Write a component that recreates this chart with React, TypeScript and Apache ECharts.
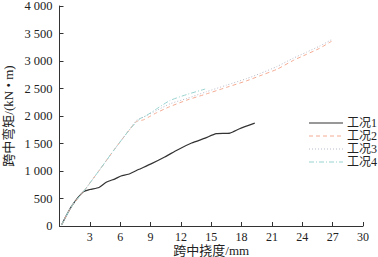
import React, { useEffect, useRef } from "react";
import * as echarts from "echarts";

const seriesNames = ["工况1", "工况2", "工况3", "工况4"];

const case1: [number, number][] = [
  [0.2, 20], [1.2, 360], [2.35, 620], [3.0, 663], [3.9, 700], [4.66, 800],
  [5.5, 857], [6.08, 910], [6.8, 940], [7.8, 1026], [9.1, 1134], [10.4, 1254],
  [11.7, 1388], [13.06, 1508], [14.4, 1598], [15.5, 1678], [16.85, 1690],
  [17.8, 1768], [19.3, 1870],
];

const case2: [number, number][] = [
  [0.2, 20], [1.2, 360], [2.35, 620], [4.0, 1030], [5.5, 1410], [7.0, 1770],
  [7.6, 1900], [8.3, 1930], [9.0, 2000], [9.6, 2060], [10.9, 2170],
  [12.6, 2290], [14.5, 2400], [16.5, 2520], [18.5, 2640], [19.8, 2730],
  [21.5, 2850], [23.1, 3010], [24.4, 3120], [25.7, 3230], [26.9, 3360],
];

const case3: [number, number][] = [
  [0.2, 20], [1.2, 360], [2.35, 620], [4.0, 1030], [5.5, 1410], [7.0, 1770],
  [7.6, 1920], [8.3, 1980], [9.6, 2100], [10.9, 2220], [12.6, 2320],
  [14.5, 2440], [16.5, 2560], [18.5, 2680], [19.8, 2770], [21.5, 2900],
  [23.1, 3050], [24.4, 3160], [25.7, 3270], [27.0, 3400],
];

const case4: [number, number][] = [
  [0.2, 20], [1.2, 360], [2.35, 620], [4.0, 1030], [5.5, 1410], [7.0, 1770],
  [7.95, 1950], [8.6, 2010], [9.6, 2130], [10.9, 2280], [12.57, 2390],
  [14.4, 2490],
];

const xTicks = { min: 0, max: 30, interval: 3 };
const yTicks = { min: 0, max: 4000, interval: 500 };

const FONT = "'Liberation Serif', 'Noto Sans CJK SC', serif";

const COLORS = ["#333333", "#f4ab93", "#b9bccb", "#98d3d0"];
const DASHES: (string | number[])[] = ["solid", [4, 3], [1, 2], [5, 2, 1, 2]];
const WIDTHS = [1.2, 1, 1, 1];

function fmtThousands(v: number): string {
  if (v >= 1000) {
    const k = Math.floor(v / 1000);
    const r = String(v % 1000).padStart(3, "0");
    return `${k} ${r}`;
  }
  return String(v);
}

export default function App() {
  const ref = useRef<HTMLDivElement>(null);
  useEffect(() => {
    if (!ref.current) return;
    const chart = echarts.init(ref.current, undefined, { renderer: "svg" });
    const axisLine = { show: true, lineStyle: { color: "#333", width: 1 } };
    const datasets = [case1, case2, case3, case4];

    const legendGraphics: any[] = [];
    seriesNames.forEach((name, i) => {
      const y = 123 + i * 13;
      legendGraphics.push({
        type: "line",
        shape: { x1: 309, y1: y, x2: 343, y2: y },
        style: {
          stroke: COLORS[i],
          lineWidth: WIDTHS[i],
          lineDash: DASHES[i] === "solid" ? null : DASHES[i],
        },
        silent: true,
      });
      legendGraphics.push({
        type: "text",
        x: 347,
        y,
        style: {
          text: name,
          fontFamily: FONT,
          fontSize: 12,
          fill: "#222",
          verticalAlign: "middle",
          align: "left",
        },
        silent: true,
      });
    });

    chart.setOption({
      animation: false,
      backgroundColor: "#fff",
      grid: {
        left: 59.5,
        right: 15,
        top: 6,
        bottom: 31,
        containLabel: false,
        outerBoundsMode: "none",
      },
      graphic: legendGraphics,
      xAxis: {
        type: "value",
        min: xTicks.min,
        max: xTicks.max,
        interval: xTicks.interval,
        name: "跨中挠度/mm",
        nameLocation: "middle",
        nameGap: 18,
        nameMoveOverlap: false,
        nameTextStyle: { fontFamily: FONT, fontSize: 13, color: "#222" },
        axisLine,
        axisTick: { show: true, inside: true, length: 4, lineStyle: { color: "#333" } },
        axisLabel: {
          fontFamily: FONT,
          fontSize: 12,
          color: "#222",
          margin: 5,
          showMinLabel: false,
          formatter: (v: number) => (v === 0 ? "" : String(v)),
        },
        splitLine: { show: false },
      },
      yAxis: {
        type: "value",
        min: yTicks.min,
        max: yTicks.max,
        interval: yTicks.interval,
        name: "跨中弯矩/(kN • m)",
        nameLocation: "middle",
        nameGap: 45,
        nameMoveOverlap: false,
        nameTextStyle: { fontFamily: FONT, fontSize: 13, color: "#222" },
        axisLine,
        axisTick: { show: true, inside: true, length: 4, lineStyle: { color: "#333" } },
        axisLabel: {
          fontFamily: FONT,
          fontSize: 12.5,
          color: "#222",
          margin: 7,
          formatter: (v: number) => fmtThousands(v),
        },
        splitLine: { show: false },
      },
      series: datasets.map((d, i) => ({
        name: seriesNames[i],
        type: "line",
        data: d,
        showSymbol: false,
        symbol: "none",
        smooth: 0.2,
        lineStyle: { color: COLORS[i], width: WIDTHS[i], type: DASHES[i] },
        itemStyle: { color: COLORS[i] },
      })),
    });
    return () => chart.dispose();
  }, []);
  return (
    <div
      ref={ref}
      style={{ position: "fixed", left: 0, top: 0, width: 378, height: 257 }}
    />
  );
}
